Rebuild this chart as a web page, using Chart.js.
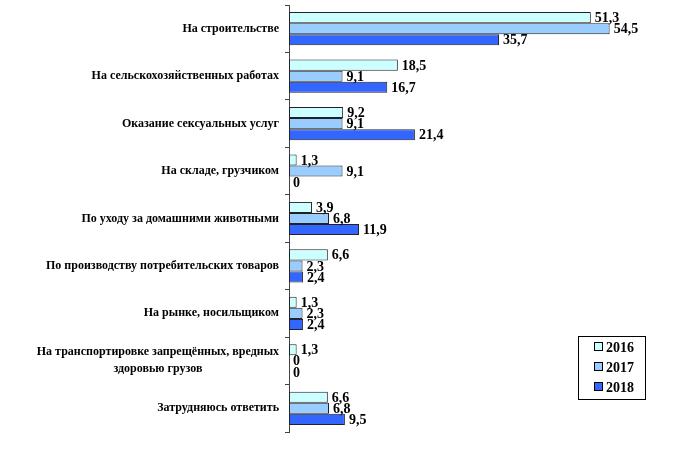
<!DOCTYPE html>
<html>
<head>
<meta charset="utf-8">
<script src="https://cdn.jsdelivr.net/npm/chart.js@4/dist/chart.umd.min.js"></script>
<style>
  html, body { margin: 0; padding: 0; background: #fff; }
  #wrap { width: 680px; height: 454px; position: relative; }
</style>
</head>
<body>
<div id="wrap"><canvas id="chart"></canvas></div>
<script>
// Категории (строки могут быть многострочными)
const categories = [
    ['На строительстве'],
    ['На сельскохозяйственных работах'],
    ['Оказание сексуальных услуг'],
    ['На складе, грузчиком'],
    ['По уходу за домашними животными'],
    ['По производству потребительских товаров'],
    ['На рынке, носильщиком'],
    ['На транспортировке запрещённых, вредных', 'здоровью грузов'],
    ['Затрудняюсь ответить']
];
const years = ['2016', '2017', '2018'];
const values2016 = [51.3, 18.5, 9.2, 1.3, 3.9, 6.6, 1.3, 1.3, 6.6];
const values2017 = [54.5, 9.1, 9.1, 9.1, 6.8, 2.3, 2.3, 0, 6.8];
const values2018 = [35.7, 16.7, 21.4, 0, 11.9, 2.4, 2.4, 0, 9.5];
const colors = ['#ccffff', '#99ccff', '#3366ff'];

const FONT = 'bold 12px "Liberation Serif", "Times New Roman", serif';
const LABEL_FONT = 'bold 14px "Liberation Serif", "Times New Roman", serif';

// Подписи категорий слева от оси
const categoryLabels = {
    id: 'categoryLabels',
    afterDraw(chart) {
        const c = chart.ctx;
        const y = chart.scales.y;
        const right = chart.chartArea.left - 10;
        c.save();
        c.font = FONT;
        c.fillStyle = '#000';
        c.textBaseline = 'middle';
        categories.forEach((lines, i) => {
            const cy = y.getPixelForValue(i);
            const maxW = Math.max(...lines.map(l => c.measureText(l).width));
            const lh = 17;
            lines.forEach((l, j) => {
                const ly = cy + (j - (lines.length - 1) / 2) * lh;
                c.textAlign = 'center';
                c.fillText(l, right - maxW / 2, ly);
            });
        });
        c.restore();
    }
};

// Значения у концов столбцов
const valueLabels = {
    id: 'valueLabels',
    afterDatasetsDraw(chart) {
        const c = chart.ctx;
        c.save();
        c.font = LABEL_FONT;
        c.fillStyle = '#000';
        c.textAlign = 'left';
        c.textBaseline = 'middle';
        chart.data.datasets.forEach((ds, di) => {
            chart.getDatasetMeta(di).data.forEach((bar, i) => {
                const txt = String(ds.data[i]).replace('.', ',');
                c.fillText(txt, bar.x + 4, bar.y + 1);
            });
        });
        c.restore();
    }
};

// Легенда в рамке
const boxLegend = {
    id: 'boxLegend',
    afterDraw(chart) {
        const c = chart.ctx;
        c.save();
        c.strokeStyle = '#000';
        c.lineWidth = 1;
        c.strokeRect(578.5, 336.5, 67, 63);
        c.font = LABEL_FONT;
        c.textAlign = 'left';
        c.textBaseline = 'middle';
        years.forEach((yr, i) => {
            const ly = 347 + i * 20;
            c.fillStyle = colors[i];
            c.fillRect(594.5, ly - 4.5, 8, 8);
            c.strokeStyle = '#000';
            c.strokeRect(594.5, ly - 4.5, 8, 8);
            c.fillStyle = '#000';
            c.fillText(yr, 606, ly + 1);
        });
        c.restore();
    }
};

const ctx = document.getElementById('chart').getContext('2d');
const sets = [values2016, values2017, values2018];

new Chart(ctx, {
    type: 'bar',
    data: {
        labels: categories.map(l => l.join(' ')),
        datasets: sets.map((d, i) => ({
            label: years[i],
            data: d,
            backgroundColor: colors[i],
            borderColor: '#222',
            borderWidth: 1,
            borderSkipped: false,
            categoryPercentage: 0.7,
            barPercentage: 1.0
        }))
    },
    options: {
        indexAxis: 'y',
        responsive: true,
        maintainAspectRatio: false,
        animation: false,
        layout: { padding: { top: 5, bottom: 22, right: 38, left: 0 } },
        plugins: {
            legend: { display: false },
            tooltip: { enabled: false }
        },
        scales: {
            x: {
                display: false,
                min: 0,
                max: 60
            },
            y: {
                ticks: { display: false },
                grid: {
                    offset: true,
                    drawOnChartArea: false,
                    tickLength: 4,
                    color: '#444'
                },
                border: { color: '#444', width: 1 },
                afterFit(scale) { scale.width = 289; }
            }
        }
    },
    plugins: [categoryLabels, valueLabels, boxLegend]
});
</script>
</body>
</html>
